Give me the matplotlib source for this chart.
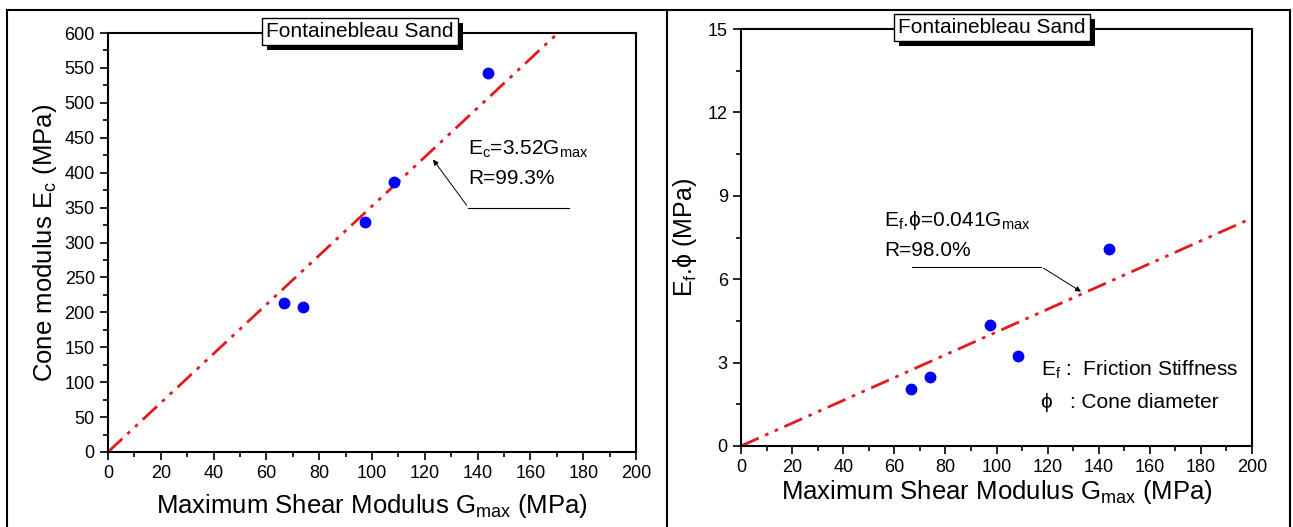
import matplotlib
matplotlib.use("Agg")
import matplotlib.pyplot as plt
from matplotlib.lines import Line2D
from matplotlib.patches import Rectangle
from matplotlib.transforms import IdentityTransform
from matplotlib.ticker import MultipleLocator
import numpy as np

plt.rcParams['font.family'] = ['Liberation Sans', 'DejaVu Sans']
plt.rcParams['mathtext.fontset'] = 'custom'
plt.rcParams['mathtext.rm'] = 'Liberation Sans'
plt.rcParams['mathtext.it'] = 'Liberation Sans'

# Data
gmax = [66.5, 74.0, 97.5, 108.5, 144.0]
ec = [214, 208, 330, 387, 543]
ef_phi = [2.05, 2.5, 4.35, 3.25, 7.1]
slope_ec = 3.52
slope_ef = 0.041
fit_x_left = [0, 170]
fit_x_right = [0, 200]
title = "Fontainebleau Sand"

W, H = 1293, 527
fig = plt.figure(figsize=(W / 100, H / 100), dpi=100)

# outer frame
for xs, ys in [([7, 1290], [10, 10]), ([7, 7], [10, 527]), ([667, 667], [10, 527]), ([1290, 1290], [10, 527])]:
    fig.add_artist(Line2D([x / W for x in xs], [1 - y / H for y in ys], color='black', lw=1.5))

axL = fig.add_axes([108 / W, 1 - 452 / H, 528 / W, 419 / H])
axR = fig.add_axes([741 / W, 1 - 446 / H, 511 / W, 417 / H])

dash = (7, 2.5, 1.3, 2.5, 1.3, 2.5)

def style(ax):
    for s in ax.spines.values():
        s.set_linewidth(1.5)
    ax.tick_params(which='both', direction='out', top=False, right=False, labelsize=13, width=1.2)
    ax.tick_params(which='major', length=6)
    ax.tick_params(which='minor', length=3.5)
    ax.xaxis.set_major_locator(MultipleLocator(20))
    ax.xaxis.set_minor_locator(MultipleLocator(10))
    ax.set_xlim(0, 200)

titles = []
def title_box(ax, xfrac):
    t = ax.annotate(title, xy=(xfrac, 1.0), xycoords='axes fraction', xytext=(0, 1),
                    textcoords='offset points', ha='center', va='center', fontsize=15, color='black',
                    bbox=dict(boxstyle='square,pad=0.2', fc='white', ec='black', lw=1), zorder=12,
                    annotation_clip=False)
    titles.append((ax, t))

# Left panel
style(axL)
axL.set_ylim(0, 600)
axL.yaxis.set_major_locator(MultipleLocator(50))
axL.yaxis.set_minor_locator(MultipleLocator(25))
fx = np.array(fit_x_left, dtype=float)
axL.plot(fx, slope_ec * fx, color='#e31a1c', lw=2, dashes=dash, clip_on=False)
axL.plot(gmax, ec, 'o', color='#0000ff', ms=7.5, clip_on=False, zorder=5)
axL.set_xlabel(r'Maximum Shear Modulus G$_{\mathrm{max}}$ (MPa)', fontsize=18.5, labelpad=7)
axL.set_ylabel(r'Cone modulus E$_{\mathrm{c}}$ (MPa)', fontsize=18.5, labelpad=4)
title_box(axL, (360 - 108) / 528)
axL.text(136.5, 433, r'E$_{\mathrm{c}}$=3.52G$_{\mathrm{max}}$', fontsize=15, va='center', ha='left')
axL.text(136.5, 391, 'R=99.3%', fontsize=15, va='center', ha='left')
axL.plot([136.5, 174.5], [350, 350], color='black', lw=0.8)
axL.annotate('', xy=(122.5, 422), xytext=(136.5, 350),
             arrowprops=dict(arrowstyle='-|>', color='black', lw=0.7, mutation_scale=8))

# Right panel
style(axR)
axR.set_ylim(0, 15)
axR.yaxis.set_major_locator(MultipleLocator(3))
axR.yaxis.set_minor_locator(MultipleLocator(1.5))
fx = np.array(fit_x_right, dtype=float)
axR.plot(fx, slope_ef * fx, color='#e31a1c', lw=2, dashes=dash, clip_on=False)
axR.plot(gmax, ef_phi, 'o', color='#0000ff', ms=7.5, clip_on=False, zorder=5)
axR.set_xlabel(r'Maximum Shear Modulus G$_{\mathrm{max}}$ (MPa)', fontsize=18.5, labelpad=1)
axR.set_ylabel('E$_{\\mathrm{f}}$.ϕ (MPa)', fontsize=18, labelpad=6)
title_box(axR, (992 - 741) / 511)
axR.text(56, 8.1, 'E$_{\\mathrm{f}}$.ϕ=0.041G$_{\\mathrm{max}}$', fontsize=15, va='center', ha='left')
axR.text(56, 7.05, 'R=98.0%', fontsize=15, va='center', ha='left')
axR.plot([67, 117.5], [6.45, 6.45], color='black', lw=0.8)
axR.annotate('', xy=(134, 5.5), xytext=(117.5, 6.45),
             arrowprops=dict(arrowstyle='-|>', color='black', lw=0.7, mutation_scale=8))
axR.text(117.5, 2.75, 'E$_{\\mathrm{f}}$ :  Friction Stiffness', fontsize=15, va='center', ha='left')
axR.text(117.5, 1.55, 'ϕ   : Cone diameter', fontsize=15, va='center', ha='left')

# drop shadows behind title boxes
fig.canvas.draw()
r = fig.canvas.get_renderer()
for ax, t in titles:
    bb = t.get_bbox_patch().get_window_extent(r)
    off = 5
    ax.add_patch(Rectangle((bb.x0 + off, bb.y0 - off), bb.width, bb.height,
                           transform=IdentityTransform(), fc='black', ec='none',
                           zorder=11, clip_on=False))

fig.savefig('out.png', dpi=100)
